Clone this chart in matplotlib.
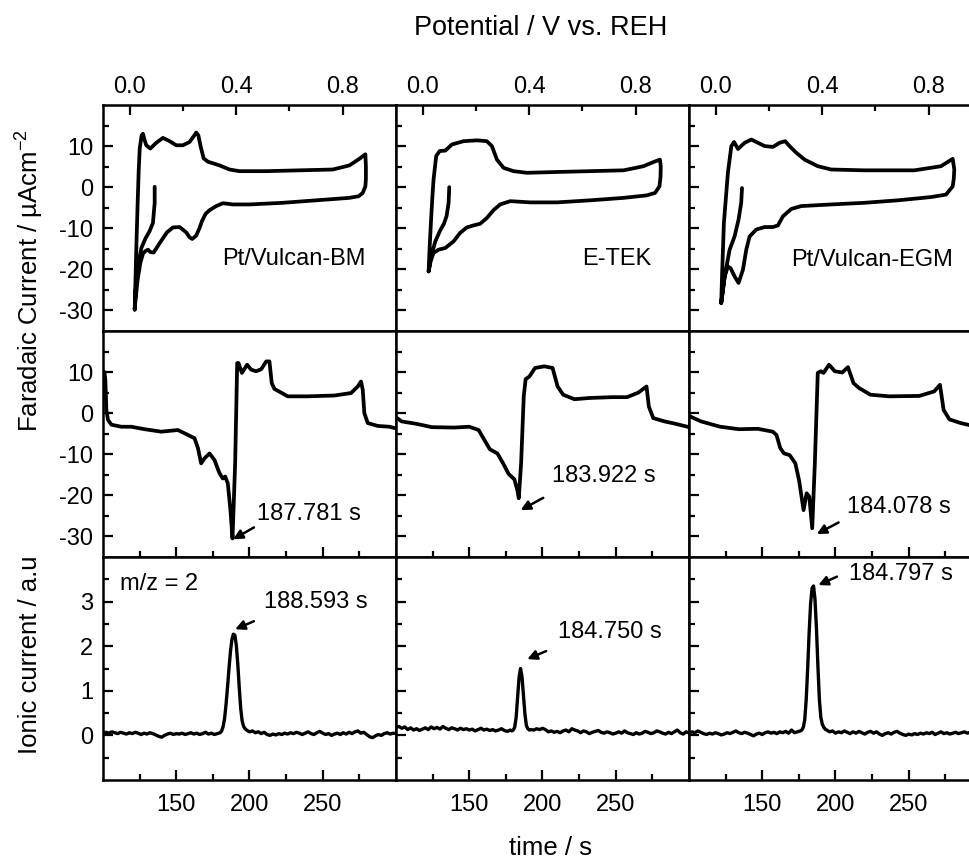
import numpy as np
import matplotlib
matplotlib.use('Agg')
import matplotlib.pyplot as plt
from matplotlib.ticker import FixedLocator

plt.rcParams['font.family'] = ['Liberation Sans', 'DejaVu Sans']
plt.rcParams['mathtext.fontset'] = 'custom'
plt.rcParams['mathtext.rm'] = 'Liberation Sans'
plt.rcParams['mathtext.it'] = 'Liberation Sans:italic'
plt.rcParams['axes.unicode_minus'] = False

# ---- top row: cyclic voltammograms (potential V, current uA/cm2) ----
cv_bm_v = [0.094, 0.094, 0.0875, 0.075, 0.06, 0.044, 0.031, 0.0225, 0.019,
           0.021, 0.025, 0.03, 0.034, 0.038, 0.045, 0.05, 0.056, 0.0625, 0.0775,
           0.1, 0.125, 0.15, 0.175, 0.2, 0.225, 0.245, 0.25, 0.258, 0.268, 0.278,
           0.294, 0.3375, 0.375, 0.4125, 0.5125, 0.6375, 0.7625, 0.825, 0.8625, 0.885,
           0.887, 0.887, 0.885, 0.875, 0.86, 0.825, 0.7, 0.575, 0.45, 0.3875, 0.35,
           0.325, 0.3, 0.285, 0.272, 0.262, 0.25, 0.235, 0.225, 0.2125, 0.1875,
           0.1625, 0.14, 0.115, 0.09, 0.078, 0.069, 0.058, 0.05, 0.04, 0.03, 0.022, 0.019]
cv_bm_i = [0.1, -3.8, -8.7, -10.7, -12.4, -14.8, -19.3, -25.0, -29.8,
           -25.0, -15.0, -4.0, 4.0, 9.5, 12.6, 13.0, 11.5, 10.2, 9.4,
           10.8, 12.0, 11.2, 10.2, 10.2, 11.0, 12.8, 13.3, 12.6, 9.5, 7.0,
           6.2, 5.3, 4.3, 3.9, 3.9, 4.1, 4.3, 5.3, 6.9, 8.0,
           5.0, 2.0, 0.2, -1.4, -2.2, -2.6, -3.2, -3.8, -4.2, -4.2, -3.9,
           -4.6, -5.6, -6.5, -8.2, -10.0, -11.8, -12.6, -12.2, -11.0, -9.7,
           -9.8, -11.0, -13.4, -15.9, -15.8, -15.2, -15.6, -16.2, -18.5, -22.5, -27.5, -29.8]

cv_etek_v = [0.1, 0.0975, 0.09, 0.08, 0.066, 0.0475, 0.031, 0.0225,
             0.026, 0.031, 0.036, 0.041, 0.051, 0.064, 0.085, 0.11, 0.154, 0.204,
             0.241, 0.26, 0.279, 0.304, 0.341, 0.391, 0.504, 0.629, 0.754, 0.829,
             0.866, 0.891, 0.894, 0.893, 0.889, 0.8725, 0.841, 0.754, 0.629, 0.504,
             0.404, 0.329, 0.291, 0.266, 0.241, 0.216, 0.191, 0.166, 0.141, 0.116,
             0.085, 0.06, 0.041, 0.03, 0.0225]
cv_etek_i = [0.0, -3.8, -7.0, -8.9, -10.5, -13.2, -17.0, -20.5,
             -15.0, -8.7, -3.0, 1.9, 7.6, 8.8, 8.9, 10.4, 11.2, 11.4,
             11.2, 10.0, 6.7, 4.7, 3.9, 3.5, 3.7, 3.9, 4.1, 5.1,
             6.1, 6.7, 5.0, 2.5, 0.2, -1.4, -2.0, -2.6, -3.2, -3.7,
             -3.7, -3.4, -4.2, -5.6, -7.5, -8.9, -9.3, -9.8, -11.1, -13.2,
             -14.8, -15.2, -16.0, -18.0, -20.5]

cv_egm_v = [0.099, 0.096, 0.086, 0.071, 0.0525, 0.034, 0.021,
            0.024, 0.031, 0.046, 0.059, 0.069, 0.084, 0.109, 0.134, 0.159, 0.184,
            0.215, 0.24, 0.261, 0.2775, 0.3025, 0.334, 0.384, 0.434, 0.559, 0.746,
            0.846, 0.89, 0.896, 0.894, 0.89, 0.865, 0.809, 0.684, 0.559, 0.434,
            0.321, 0.284, 0.2525, 0.234, 0.215, 0.184, 0.1525, 0.1275, 0.115,
            0.1025, 0.086, 0.071, 0.056, 0.046, 0.034, 0.021]
cv_egm_i = [-0.2, -3.8, -7.9, -12.0, -15.2, -21.7, -28.2,
            -21.7, -8.7, 3.5, 10.0, 11.0, 9.3, 10.8, 11.6, 10.8, 10.0,
            9.8, 10.8, 11.2, 10.0, 8.4, 6.7, 5.1, 4.3, 4.1, 4.1,
            5.1, 6.9, 4.3, 2.0, 0.2, -1.8, -2.4, -3.2, -3.8, -4.2,
            -4.6, -5.3, -7.1, -9.3, -9.7, -9.7, -10.3, -12.0, -15.2,
            -20.1, -23.3, -21.7, -19.7, -19.3, -21.7, -28.2]

# ---- middle row: faradaic current vs time ----
fc_bm_t = [101.0, 101.6, 102.3, 103.4, 105.7, 112.5, 119.3, 128.4, 139.8, 151.1,
           158.0, 162.5, 164.8, 167.0, 169.3, 172.7, 176.1, 179.5, 181.8, 183.4,
           185.2, 187.0, 188.4, 190.2, 191.6, 192.5, 194.8, 198.4, 201.1, 204.5,
           208.0, 211.4, 213.6, 215.2, 217.0, 221.6, 226.1, 230.7, 239.8, 258.0,
           269.3, 273.9, 276.1, 277.3, 278.4, 280.7, 287.5, 295.5, 300.0]
fc_bm_i = [10.0, 8.1, 0.8, -1.6, -2.8, -3.3, -3.3, -3.9, -4.5, -4.1,
           -5.3, -6.1, -8.5, -12.2, -11.0, -9.8, -11.4, -14.6, -15.9, -15.4,
           -17.1, -23.6, -30.5, -12.2, 12.2, 12.2, 9.8, 11.8, 10.6, 10.2,
           10.7, 12.6, 12.6, 7.3, 5.9, 5.0, 4.1, 4.1, 4.1, 4.3,
           4.9, 6.5, 7.7, 5.7, 0.0, -2.4, -3.1, -3.3, -3.7]

fc_etek_t = [100.0, 103.8, 114.1, 124.4, 139.7, 150.0, 156.4, 160.3, 164.1, 169.2,
             173.1, 176.9, 180.8, 182.8, 183.8, 185.4, 187.2, 188.5, 191.0, 194.9,
             201.3, 206.9, 210.3, 214.1, 221.8, 232.1, 247.4, 257.7, 265.4, 271.0,
             272.6, 275.6, 283.3, 291.0, 300.0]
fc_etek_i = [-1.0, -2.0, -2.6, -3.4, -3.5, -3.3, -4.1, -6.5, -8.8, -9.8,
             -12.2, -14.8, -16.1, -18.7, -20.7, -12.2, 4.1, 8.3, 8.9, 11.0,
             11.4, 11.0, 6.5, 4.5, 3.4, 3.7, 3.9, 3.9, 5.0, 6.5,
             1.6, -1.2, -2.0, -2.6, -3.4]

fc_egm_t = [100.0, 102.0, 108.2, 121.3, 134.1, 146.9, 157.2, 159.7, 162.3, 164.9,
            168.7, 172.6, 175.1, 178.2, 180.3, 182.1, 184.1, 185.9, 187.9, 190.0,
            191.8, 195.6, 199.5, 204.6, 208.5, 212.3, 216.2, 223.8, 236.7, 257.2,
            267.4, 271.3, 273.8, 277.7, 285.4, 292.6, 300.0]
fc_egm_i = [-0.6, -1.0, -2.0, -3.3, -3.9, -3.8, -4.5, -5.3, -8.5, -9.8,
            -10.2, -12.2, -16.3, -23.6, -19.5, -20.3, -28.0, -12.2, 9.8, 10.2,
            9.8, 11.8, 10.2, 9.9, 11.2, 7.3, 6.1, 4.5, 4.1, 4.2,
            5.3, 6.9, 0.8, -1.5, -2.4, -3.0, -3.4]

# ---- bottom row: m/z = 2 ionic current vs time ----
ms_bm_t = list(range(100, 180, 2)) + list(range(180, 199)) + list(range(200, 302, 2))
ms_bm_v = [0.03, 0.07, 0.05, 0.08, 0.06, 0.04, 0.07, 0.05, 0.03, 0.06,
           0.04, 0.07, 0.05, 0.02, 0.05, 0.03, 0.06, 0.04, 0.01, -0.02,
           -0.04, 0.00, 0.03, 0.05, 0.02, 0.04, 0.03, 0.05, 0.02, 0.04,
           0.06, 0.03, 0.05, 0.02, 0.04, 0.07, 0.03, 0.05, 0.02, 0.04,
           0.06, 0.10, 0.20, 0.38, 0.70, 1.08, 1.50, 1.88, 2.15, 2.27,
           2.25, 2.02, 1.60, 1.08, 0.60, 0.32, 0.20, 0.15, 0.12,
           0.08, 0.10, 0.06, 0.08, 0.04, 0.07, 0.02, 0.00, 0.03, 0.01,
           0.04, 0.02, 0.05, 0.03, 0.06, 0.04, 0.07, 0.05, 0.02, 0.05,
           0.08, 0.04, 0.02, 0.06, 0.09, 0.05, 0.02, 0.04, 0.00, 0.03,
           0.05, 0.02, 0.06, 0.03, 0.07, 0.04, 0.08, 0.10, 0.05, 0.07,
           0.02, -0.03, -0.05, -0.01, 0.02, 0.00, 0.04, 0.06, 0.03, 0.05, 0.04]

ms_etek_t = list(range(100, 180, 2)) + list(range(179, 192)) + list(range(192, 302, 2))
ms_etek_v = [0.18, 0.20, 0.16, 0.19, 0.13, 0.17, 0.12, 0.15, 0.11, 0.14,
             0.17, 0.13, 0.19, 0.15, 0.18, 0.14, 0.20, 0.16, 0.13, 0.17,
             0.15, 0.12, 0.16, 0.13, 0.15, 0.12, 0.14, 0.10, 0.13, 0.16,
             0.12, 0.14, 0.11, 0.13, 0.10, 0.12, 0.15, 0.11, 0.09, 0.12,
             0.10, 0.12, 0.18, 0.40, 0.85, 1.30, 1.50, 1.32, 0.90, 0.48,
             0.22, 0.15, 0.12,
             0.13, 0.12, 0.15, 0.13, 0.16, 0.13, 0.08, 0.10, 0.07, 0.09,
             0.06, 0.10, 0.12, 0.08, 0.15, 0.12, 0.10, 0.06, 0.10, 0.08,
             0.04, 0.07, 0.09, 0.11, 0.07, 0.05, 0.08, 0.06, 0.03, 0.05,
             0.08, 0.05, 0.10, 0.06, 0.04, 0.02, 0.06, 0.03, 0.05, 0.09,
             0.07, 0.04, 0.06, 0.10, 0.08, 0.05, 0.03, 0.07, 0.04, 0.08,
             0.12, 0.06, 0.03, 0.08, 0.06]

ms_egm_t = list(range(100, 178, 2)) + list(range(177, 194)) + list(range(194, 302, 2))
ms_egm_v = [0.05, 0.08, 0.06, 0.10, 0.07, 0.04, 0.02, 0.05, 0.03, 0.06,
            0.04, 0.01, 0.03, 0.06, 0.04, 0.07, 0.10, 0.06, 0.04, 0.07,
            0.05, 0.02, -0.01, 0.03, 0.05, 0.02, 0.06, 0.08, 0.05, 0.07,
            0.04, 0.08, 0.06, 0.09, 0.05, 0.12, 0.06, 0.08, 0.10,
            0.12, 0.18, 0.35, 0.80, 1.50, 2.30, 2.95, 3.30, 3.35, 3.05,
            2.40, 1.55, 0.80, 0.40, 0.25, 0.18, 0.14,
            0.12, 0.08, 0.10, 0.05, 0.08, 0.06, 0.10, 0.07, 0.04, 0.08,
            0.05, 0.09, 0.06, 0.03, 0.07, 0.09, 0.05, 0.08, 0.03, 0.00,
            0.04, 0.06, 0.03, 0.07, 0.09, 0.05, 0.02, 0.00, 0.03, 0.01,
            0.04, 0.02, 0.05, 0.03, 0.06, 0.04, 0.07, 0.02, 0.05, 0.08,
            0.04, 0.06, 0.03, 0.05, 0.07, 0.04, 0.06, 0.08, 0.05, 0.07,
            0.04, 0.06, 0.05, 0.07]

cv_names = ['Pt/Vulcan-BM', 'E-TEK', 'Pt/Vulcan-EGM']
cv_name_pos = [(0.3475, -17.5), (0.5975, -17.5), (0.284, -17.6)]

fc_labels = ['187.781 s', '183.922 s', '184.078 s']
fc_text_pos = [(204.9, -24.6), (206.4, -15.4), (207.7, -22.8)]
fc_arrow_tail = [(203.0, -27.8), (200.5, -20.6), (202.1, -26.6)]
fc_arrow_tip = [(188.8, -30.7), (185.1, -23.6), (187.2, -29.4)]

ms_labels = ['188.593 s', '184.750 s', '184.797 s']
ms_text_pos = [(209.8, 2.98), (210.4, 2.32), (209.0, 3.62)]
ms_arrow_tail = [(203.0, 2.56), (202.5, 1.89), (201.0, 3.56)]
ms_arrow_tip = [(190.2, 2.38), (189.6, 1.71), (188.3, 3.37)]

cv_data = [(cv_bm_v, cv_bm_i), (cv_etek_v, cv_etek_i), (cv_egm_v, cv_egm_i)]
fc_data = [(fc_bm_t, fc_bm_i), (fc_etek_t, fc_etek_i), (fc_egm_t, fc_egm_i)]
ms_data = [(ms_bm_t, ms_bm_v), (ms_etek_t, ms_etek_v), (ms_egm_t, ms_egm_v)]

W, H = 970, 861
fig = plt.figure(figsize=(W / 100, H / 100), dpi=100)

col_x = [103, 396, 689]
col_w = 293
rows = [(105, 331), (331, 557), (557, 780)]

FS = 17
LW = 2.7


def make_ax(col, row):
    x0 = col_x[col]
    top, bot = rows[row]
    ax = fig.add_axes([x0 / W, 1 - bot / H, col_w / W, (bot - top) / H])
    for s in ax.spines.values():
        s.set_linewidth(1.8)
    ax.tick_params(which='both', direction='in', width=1.6, labelsize=FS,
                   left=True, right=False, top=False, bottom=False,
                   labelleft=(col == 0), labelbottom=False)
    ax.tick_params(which='major', length=7.5)
    ax.tick_params(which='minor', length=4)
    ax.tick_params(axis='y', pad=7)
    return ax


def arrow(ax, tail, tip):
    ax.annotate('', xy=tip, xytext=tail,
                arrowprops=dict(arrowstyle='-|>', color='k', lw=1.8,
                                mutation_scale=14, shrinkA=0, shrinkB=0))


for c in range(3):
    # CV
    ax = make_ax(c, 0)
    v, i = cv_data[c]
    ax.plot(v, i, color='k', lw=LW, solid_joinstyle='round', solid_capstyle='round')
    ax.set_xlim(-0.1, 1.0)
    ax.set_ylim(-35, 20)
    ax.xaxis.set_major_locator(FixedLocator([0.0, 0.4, 0.8]))
    ax.xaxis.set_minor_locator(FixedLocator([0.2, 0.6]))
    ax.xaxis.set_major_formatter(plt.FuncFormatter(lambda x, p: f'{x:.1f}'))
    ax.yaxis.set_major_locator(FixedLocator([-30, -20, -10, 0, 10]))
    ax.yaxis.set_minor_locator(FixedLocator([-25, -15, -5, 5, 15]))
    ax.tick_params(axis='x', which='both', top=True, labeltop=True, pad=5)
    ax.text(cv_name_pos[c][0], cv_name_pos[c][1], cv_names[c], fontsize=FS,
            ha='left', va='center')

    # faradaic current vs time
    ax = make_ax(c, 1)
    t, i = fc_data[c]
    ax.plot(t, i, color='k', lw=LW, solid_joinstyle='round', solid_capstyle='round')
    ax.set_xlim(100, 300)
    ax.set_ylim(-35, 20)
    ax.xaxis.set_major_locator(FixedLocator([150, 200, 250]))
    ax.xaxis.set_minor_locator(FixedLocator([125, 175, 225, 275]))
    ax.yaxis.set_major_locator(FixedLocator([-30, -20, -10, 0, 10]))
    ax.yaxis.set_minor_locator(FixedLocator([-25, -15, -5, 5, 15]))
    ax.tick_params(axis='x', which='both', bottom=True)
    ax.text(fc_text_pos[c][0], fc_text_pos[c][1], fc_labels[c], fontsize=FS,
            ha='left', va='center')
    arrow(ax, fc_arrow_tail[c], fc_arrow_tip[c])

    # ionic current vs time
    ax = make_ax(c, 2)
    t, m = ms_data[c]
    ax.plot(t, m, color='k', lw=2.4, solid_joinstyle='round')
    ax.set_xlim(100, 300)
    ax.set_ylim(-1, 4)
    ax.xaxis.set_major_locator(FixedLocator([150, 200, 250]))
    ax.xaxis.set_minor_locator(FixedLocator([125, 175, 225, 275]))
    ax.yaxis.set_major_locator(FixedLocator([0, 1, 2, 3]))
    ax.yaxis.set_minor_locator(FixedLocator([-0.5, 0.5, 1.5, 2.5, 3.5]))
    ax.tick_params(axis='x', which='both', bottom=True, labelbottom=True, pad=10)
    ax.text(ms_text_pos[c][0], ms_text_pos[c][1], ms_labels[c], fontsize=FS,
            ha='left', va='center')
    arrow(ax, ms_arrow_tail[c], ms_arrow_tip[c])
    if c == 0:
        ax.text(111.6, 3.39, 'm/z = 2', fontsize=FS, ha='left', va='center')

fig.text(541 / W, 1 - 28 / H, 'Potential / V vs. REH', fontsize=19.5,
         ha='center', va='center')
fig.text(551 / W, 1 - 848 / H, 'time / s', fontsize=18.5, ha='center', va='center')
fig.text(30 / W, 1 - 281 / H, 'Faradaic Current / \u00b5Acm$^{-2}$', fontsize=18.5,
         rotation=90, ha='center', va='center')
fig.text(30 / W, 1 - 655 / H, 'Ionic current / a.u', fontsize=18.5,
         rotation=90, ha='center', va='center')

fig.savefig('out.png', dpi=100)
